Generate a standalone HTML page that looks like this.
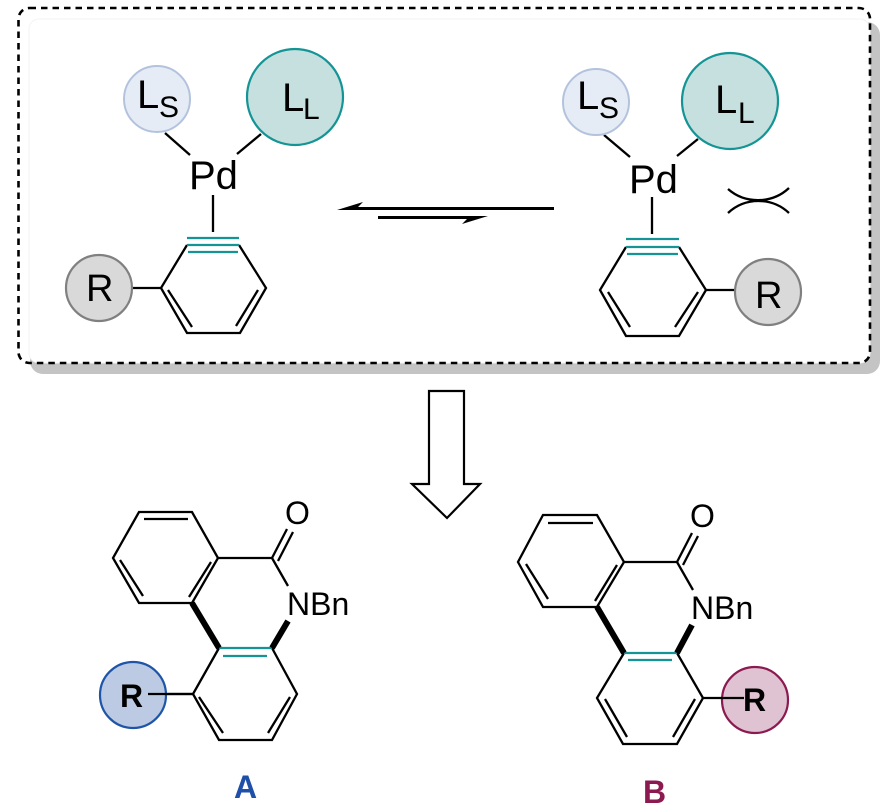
<!DOCTYPE html>
<html><head><meta charset="utf-8"><style>
html,body{margin:0;padding:0;background:#fff;}
svg{display:block;}
text{font-family:"Liberation Sans",Arial,sans-serif;}
</style></head><body>
<svg width="892" height="812" viewBox="0 0 892 812" xmlns="http://www.w3.org/2000/svg">
<!-- box -->
<rect x="30" y="22" width="850" height="352" rx="13" fill="#c4c4c4"/>
<rect x="29" y="19" width="841" height="344" rx="10" fill="#fff" stroke="#f3f3f3" stroke-width="1"/>
<rect x="18.5" y="8" width="851.5" height="355" rx="11" fill="none" stroke="#000" stroke-width="2.6" stroke-dasharray="6.5 5"/>

<g stroke="#000" stroke-width="2.3" fill="none" stroke-linecap="butt">
<!-- left complex bonds -->
<line x1="165" y1="133" x2="190" y2="155"/>
<line x1="261" y1="134" x2="237" y2="154"/>
<line x1="213" y1="195" x2="213" y2="232"/>
<polyline points="187,245 161,288 187,333 240,333 266,288 239,245"/>
<line x1="168" y1="290" x2="192" y2="327"/>
<line x1="258" y1="290" x2="236" y2="326"/>
<line x1="133" y1="288" x2="161" y2="288"/>
<!-- right complex bonds -->
<line x1="604" y1="135" x2="630" y2="157"/>
<line x1="698" y1="139" x2="677" y2="156"/>
<line x1="652" y1="197" x2="652" y2="234"/>
<polyline points="626,247 600,290 626,336 679,336 706,290 679,247"/>
<line x1="608" y1="292" x2="630" y2="327"/>
<line x1="698" y1="292" x2="675" y2="327"/>
<line x1="706" y1="290" x2="735" y2="290"/>
<!-- clash -->
<path d="M728,189 C745,204 772,204 789,188"/>
<path d="M728,213 C745,197 772,197 789,213"/>
</g>
<!-- teal triple bonds -->
<g stroke="#149494" stroke-width="2.3">
<line x1="187" y1="238" x2="239" y2="238"/>
<line x1="187" y1="245" x2="239" y2="245"/>
<line x1="188" y1="252" x2="238" y2="252"/>
<line x1="626" y1="239" x2="679" y2="239"/>
<line x1="626" y1="247" x2="679" y2="247"/>
<line x1="627" y1="254" x2="678" y2="254"/>
</g>
<!-- circles -->
<circle cx="157" cy="99" r="33" fill="#e6ecf5" stroke="#b3c3de" stroke-width="2"/>
<circle cx="295" cy="97" r="48" fill="#c5e0df" stroke="#149494" stroke-width="2.2"/>
<circle cx="99" cy="288" r="33" fill="#d9d9d9" stroke="#808080" stroke-width="2.2"/>
<circle cx="596" cy="102" r="33" fill="#e6ecf5" stroke="#b3c3de" stroke-width="2"/>
<circle cx="730" cy="101" r="48" fill="#c5e0df" stroke="#149494" stroke-width="2.2"/>
<circle cx="768" cy="292" r="33" fill="#d9d9d9" stroke="#808080" stroke-width="2.2"/>
<!-- labels top -->
<text x="137" y="108" font-size="40">L</text><text x="159" y="117" font-size="30">S</text>
<text x="282" y="111" font-size="40">L</text><text x="303" y="119" font-size="30">L</text>
<text x="189" y="189" font-size="40">Pd</text>
<text x="86" y="301" font-size="38">R</text>
<text x="577" y="109" font-size="40">L</text><text x="599" y="118" font-size="30">S</text>
<text x="715" y="113" font-size="40">L</text><text x="738" y="123" font-size="30">L</text>
<text x="629" y="193" font-size="40">Pd</text>
<text x="755" y="308" font-size="38">R</text>
<!-- equilibrium arrows -->
<line x1="352" y1="208.5" x2="554" y2="208.5" stroke="#000" stroke-width="3"/>
<polygon points="337,210 363,202 358,207 358,210" fill="#000"/>
<line x1="378" y1="217.5" x2="474" y2="217.5" stroke="#000" stroke-width="3"/>
<polygon points="488,216 462,224 467,219 467,216" fill="#000"/>
<!-- big down arrow -->
<polygon points="429,391 464,391 464,484 480,484 447,518 412,484 429,484" fill="#fff" stroke="#000" stroke-width="2.2" stroke-linejoin="miter"/>

<!-- Molecule A -->
<g stroke="#000" stroke-width="2.3" fill="none">
<polygon points="139,512 192,512 218,558 192,603 139,603 113,558"/>
<line x1="144" y1="519" x2="188" y2="519"/>
<line x1="120" y1="560" x2="143" y2="596"/>
<line x1="211" y1="562" x2="189" y2="597"/>
<line x1="218" y1="558" x2="272" y2="558"/>
<line x1="272" y1="558" x2="287" y2="529"/>
<line x1="278" y1="561" x2="293" y2="532"/>
<line x1="272" y1="558" x2="288" y2="586"/>
<polyline points="219,648 193,694 219,740 272,740 297,694 272,648"/>
<line x1="199" y1="697" x2="223" y2="733"/>
<line x1="290" y1="697" x2="268" y2="733"/>
<line x1="148" y1="694" x2="193" y2="694"/>
</g>
<g stroke="#149494" stroke-width="2.3">
<line x1="219" y1="648" x2="272" y2="648"/>
<line x1="223" y1="656" x2="267" y2="656"/>
</g>
<g stroke="#000" stroke-width="6">
<line x1="192" y1="603" x2="219" y2="648"/>
<line x1="272" y1="648" x2="288" y2="621"/>
</g>
<text x="285" y="524" font-size="32">O</text>
<text x="287" y="615" font-size="32">NBn</text>
<circle cx="133" cy="695" r="33" fill="#bccbe3" stroke="#1f55a8" stroke-width="2.2"/>
<line x1="148" y1="694" x2="193" y2="694" stroke="#000" stroke-width="2.3"/>
<text x="120" y="707" font-size="32" font-weight="bold">R</text>
<text x="234" y="798" font-size="32" font-weight="bold" fill="#1f4fa8">A</text>

<!-- Molecule B -->
<g stroke="#000" stroke-width="2.3" fill="none">
<polygon points="543,515 597,515 624,562 597,607 543,607 518,562"/>
<line x1="548" y1="523" x2="593" y2="523"/>
<line x1="526" y1="564" x2="548" y2="599"/>
<line x1="617" y1="565" x2="595" y2="601"/>
<line x1="624" y1="562" x2="677" y2="562"/>
<line x1="677" y1="562" x2="692" y2="533"/>
<line x1="683" y1="565" x2="698" y2="536"/>
<line x1="677" y1="562" x2="693" y2="590"/>
<polyline points="624,653 597,698 623,744 677,744 703,698 677,653"/>
<line x1="605" y1="699" x2="627" y2="737"/>
<line x1="695" y1="699" x2="673" y2="737"/>
</g>
<g stroke="#149494" stroke-width="2.3">
<line x1="624" y1="653" x2="677" y2="653"/>
<line x1="628" y1="660" x2="672" y2="660"/>
</g>
<g stroke="#000" stroke-width="6">
<line x1="597" y1="607" x2="624" y2="653"/>
<line x1="677" y1="653" x2="692" y2="625"/>
</g>
<text x="690" y="527" font-size="32">O</text>
<text x="691" y="619" font-size="32">NBn</text>
<circle cx="755" cy="700" r="33" fill="#dfc3d2" stroke="#8b1a50" stroke-width="2.2"/>
<line x1="703" y1="698" x2="744" y2="698" stroke="#000" stroke-width="2.3"/>
<text x="743" y="711" font-size="32" font-weight="bold">R</text>
<text x="643" y="803" font-size="32" font-weight="bold" fill="#8b1a50">B</text>
</svg>
</body></html>
